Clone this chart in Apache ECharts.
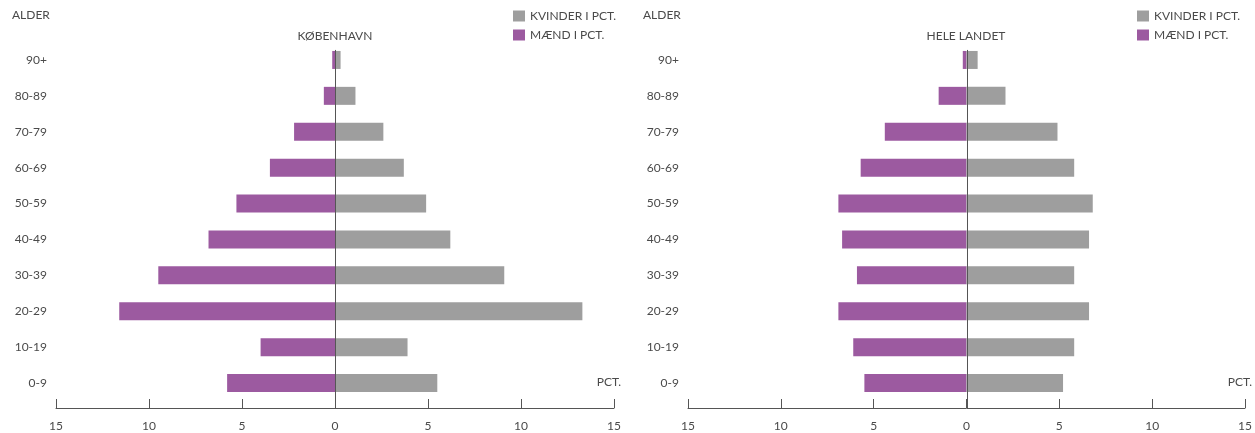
<!DOCTYPE html>
<html>
<head>
<meta charset="utf-8">
<script src="https://cdn.jsdelivr.net/npm/echarts@6/dist/echarts.min.js"></script>
<style>
html,body{margin:0;padding:0;background:#fff;}
#main{width:1255px;height:433px;}
</style>
</head>
<body>
<div id="main"></div>
<script>
// Age groups, bottom to top
const categories = ['0-9','10-19','20-29','30-39','40-49','50-59','60-69','70-79','80-89','90+'];
// København
const kbhWomen = [5.5, 3.9, 13.3, 9.1, 6.2, 4.9, 3.7, 2.6, 1.1, 0.3];
const kbhMen   = [5.8, 4.0, 11.6, 9.5, 6.8, 5.3, 3.5, 2.2, 0.6, 0.15];
// Hele landet
const dkWomen  = [5.2, 5.8, 6.6, 5.8, 6.6, 6.8, 5.8, 4.9, 2.1, 0.6];
const dkMen    = [5.5, 6.1, 6.9, 5.9, 6.7, 6.9, 5.7, 4.4, 1.5, 0.2];

const titles = ['KØBENHAVN', 'HELE LANDET'];
const womenName = 'KVINDER I PCT.';
const menName = 'MÆND I PCT.';
const ageLabel = 'ALDER';
const unitLabel = 'PCT.';

const FONT = 'Lato, "Open Sans", sans-serif';
const TXT = '#4a4a4a';
const PURPLE = '#9c5aa0';
const GRAY = '#9e9e9e';
const AXIS = '#555555';

const grids = [
  {left: 56, width: 558, top: 42, height: 359},
  {left: 688, width: 558, top: 42, height: 359}
];

function xAxisFor(i) {
  return {
    type: 'value', gridIndex: i, min: -15, max: 15, interval: 5,
    offset: 7,
    axisLine: {show: true, lineStyle: {color: AXIS, width: 1}},
    axisTick: {show: true, inside: true, length: 9, lineStyle: {color: AXIS, width: 1}},
    splitLine: {show: false},
    axisLabel: {color: TXT, fontFamily: FONT, fontSize: 12, margin: 12,
      formatter: v => String(Math.abs(v))},
    name: unitLabel, nameLocation: 'end', nameGap: 7,
    nameTextStyle: {color: TXT, fontFamily: FONT, fontSize: 12, align: 'right',
      verticalAlign: 'bottom', padding: [0, 0, 20, 0]}
  };
}
function yAxisFor(i) {
  return {
    type: 'category', gridIndex: i, data: categories,
    axisLine: {show: false}, axisTick: {show: false},
    axisLabel: {color: TXT, fontFamily: FONT, fontSize: 12, margin: 9}
  };
}
function seriesFor(i, women, men) {
  return [
    {name: menName, type: 'bar', xAxisIndex: i, yAxisIndex: i, barWidth: 18,
     itemStyle: {color: PURPLE}, data: men.map(v => -v), barGap: '-100%'},
    {name: womenName, type: 'bar', xAxisIndex: i, yAxisIndex: i, barWidth: 18,
     itemStyle: {color: GRAY}, data: women, barGap: '-100%'}
  ];
}
function legendFor(left) {
  return {
    left: left, top: 5, orient: 'vertical', itemWidth: 12, itemHeight: 11, itemGap: 7,
    icon: 'rect', data: [womenName, menName],
    textStyle: {color: TXT, fontFamily: FONT, fontSize: 12}
  };
}
const titleStyle = {color: TXT, fontFamily: FONT, fontSize: 12, fontWeight: 'normal'};

const chart = echarts.init(document.getElementById('main'), null, {renderer: 'canvas'});
const option = {
  animation: false,
  backgroundColor: '#fff',
  title: [
    {text: ageLabel, left: 12, top: 9, padding: 0, textStyle: titleStyle},
    {text: ageLabel, left: 643, top: 9, padding: 0, textStyle: titleStyle},
    {text: titles[0], left: 335, textAlign: 'center', top: 30, padding: 0, textStyle: titleStyle},
    {text: titles[1], left: 966, textAlign: 'center', top: 30, padding: 0, textStyle: titleStyle}
  ],
  legend: [legendFor(508), legendFor(1132)],
  grid: grids,
  xAxis: [xAxisFor(0), xAxisFor(1)],
  yAxis: [yAxisFor(0), yAxisFor(1)],
  series: [].concat(seriesFor(0, kbhWomen, kbhMen), seriesFor(1, dkWomen, dkMen))
};
chart.setOption(option);

// zero line: from top of the highest bar down to the x axis line (derived from the scales)
const lines = [];
[0, 1].forEach(i => {
  const top = chart.convertToPixel({gridIndex: i}, [0, categories[categories.length - 1]]);
  const bot = chart.convertToPixel({gridIndex: i}, [0, categories[0]]);
  const band = (bot[1] - top[1]) / (categories.length - 1);
  const axisY = bot[1] + band / 2 + 7;
  lines.push({type: 'line', z: 100, shape: {x1: Math.round(top[0]) + 0.5, y1: top[1] - 10, x2: Math.round(top[0]) + 0.5, y2: axisY},
    style: {stroke: AXIS, lineWidth: 1}});
});
chart.setOption({graphic: lines});
</script>
</body>
</html>
